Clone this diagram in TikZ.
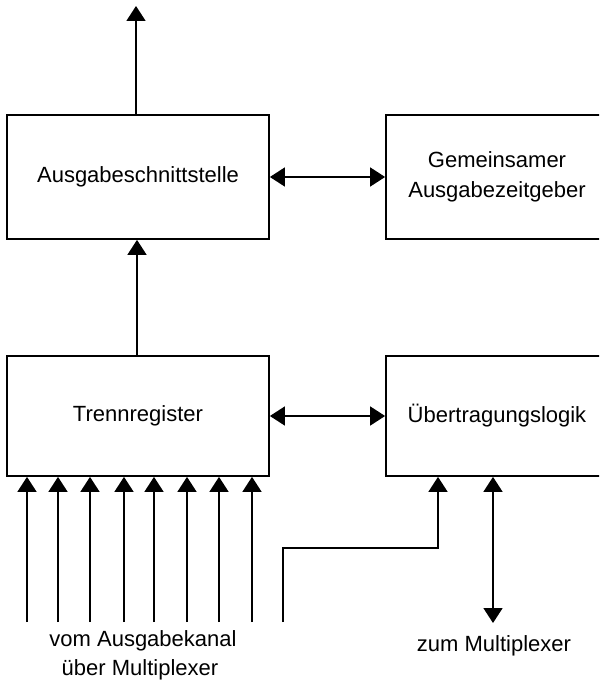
\documentclass[tikz,border=0pt]{standalone}
\usepackage{fontspec}
\setmainfont{Liberation Sans}
\usetikzlibrary{arrows.meta}
\begin{document}
\begin{tikzpicture}[x=1pt,y=-1pt,
  box/.style={draw,line width=1.8pt,inner sep=0pt,align=center,font=\fontsize{22}{30}\selectfont},
  lbl/.style={inner sep=0pt,align=center,font=\fontsize{22}{29}\selectfont},
  arr/.style={line width=1.7pt,-{Triangle[width=19pt,length=15pt]}},
  biarr/.style={line width=1.7pt,{Triangle[width=19pt,length=15pt]}-{Triangle[width=19pt,length=15pt]}}]
\useasboundingbox (0,0) rectangle (599,684);
\clip (0,0) rectangle (599,684);
\node[box,minimum width=262pt,minimum height=124pt] (A) at (138,177) {Ausgabeschnittstelle};
\node[box,minimum width=222pt,minimum height=124pt] (G) at (497,177) {Gemeinsamer\\Ausgabezeitgeber};
\node[box,minimum width=262pt,minimum height=120pt] (T) at (138,416) {Trennregister};
\node[box,minimum width=222pt,minimum height=120pt] (U) at (497,416) {Übertragungslogik};
\coordinate (top) at (136,6);
\draw[arr] (A.north -| top) -- (top);
\draw[arr] (T.north -| 137,0) -- (A.south -| 137,0);
\draw[biarr] (A.east) -- (G.west);
\draw[biarr] (T.east) -- (U.west);
\foreach \x [count=\i] in {27,58,90,124,154,187,219,252}{
  \coordinate (b\i) at (\x,622);
  \draw[arr] (b\i) -- (b\i |- T.south);
}
\coordinate (s0) at (283,622);
\coordinate (s1) at (283,548);
\coordinate (s2) at (438,548);
\draw[arr] (s0) -- (s1) -- (s2) -- (s2 |- U.south);
\coordinate (m) at (493,623);
\draw[biarr] (m |- U.south) -- (m);
\node[lbl] (L1) at (143,641) {vom Ausgabekanal};
\node[lbl] (L2) at (140,670) {über Multiplexer};
\node[lbl] (L3) at (494,646) {zum Multiplexer};
\end{tikzpicture}
\end{document}
